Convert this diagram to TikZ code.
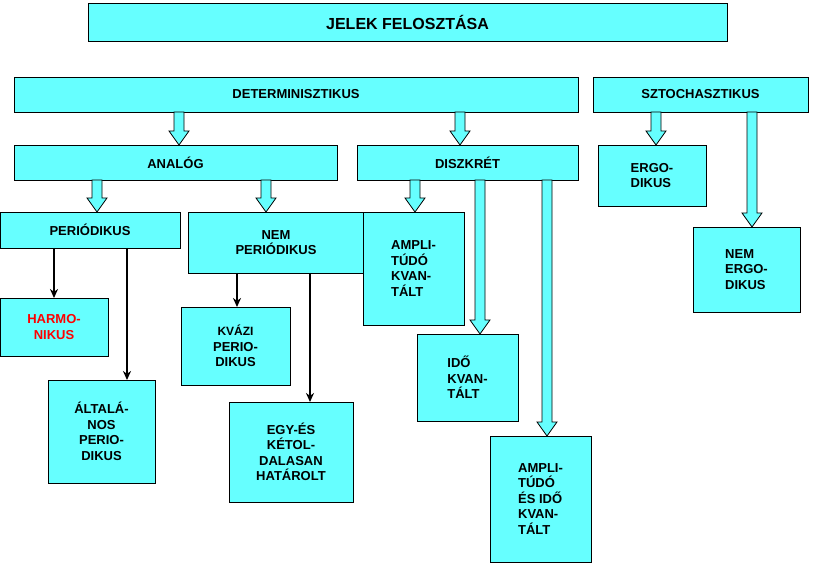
\documentclass[tikz,border=0pt]{standalone}
\usepackage{fontspec}
\setmainfont{Liberation Sans}
\usetikzlibrary{arrows.meta}
\definecolor{cy}{HTML}{66FFFF}
\tikzset{box/.style={draw=black,line width=0.9pt,fill=cy,inner sep=0pt,outer sep=0pt,font=\bfseries\fontsize{13}{15.5}\selectfont},
 barrow/.style={draw=black,line width=0.8pt,fill=cy},
 karrow/.style={draw=black,line width=2pt,-{Stealth[length=9pt,width=8pt]}}}
\newcommand\bx[7][center]{\node[box,align=#1,minimum width={(#5-#3)*1pt},minimum height={(#6-#4)*1pt}] (#2) at ({(#3+#5)/2},{(#4+#6)/2}) {#7};}
\newcommand\barr[3]{\draw[barrow] ({#1-5},#2) -- ({#1+5},#2) -- ({#1+5},{#3-14}) -- ({#1+10},{#3-14}) -- (#1,#3) -- ({#1-10},{#3-14}) -- ({#1-5},{#3-14}) -- cycle;}
\begin{document}
\begin{tikzpicture}[x=1pt,y=-1pt]
\useasboundingbox (0,0) rectangle (814,577);
\node[box,minimum width=639pt,minimum height=38pt,font=\bfseries\fontsize{16}{19}\selectfont] (title) at (407.5,22) {JELEK FELOSZTÁSA};
\bx{det}{14}{77}{578}{112}{DETERMINISZTIKUS}
\bx{szt}{593}{77}{808}{112}{SZTOCHASZTIKUS}
\bx{ana}{14}{145}{337}{180}{ANALÓG}
\bx{dis}{357}{145}{578}{180}{DISZKRÉT}
\bx[left]{erg}{598}{145}{706}{206}{ERGO-\\DIKUS}
\bx{per}{0}{212}{180}{248}{PERIÓDIKUS}
\bx{nper}{188}{212}{364}{273}{NEM\\PERIÓDIKUS}
\bx[left]{amp}{363}{212}{464}{325}{AMPLI-\\TÚDÓ\\KVAN-\\TÁLT}
\bx[left]{nerg}{693}{227}{800}{312}{NEM\\ERGO-\\DIKUS}
\bx{harm}{0}{298}{108}{356}{\textcolor{red}{HARMO-}\\\textcolor{red}{NIKUS}}
\bx{kvazi}{181}{307}{290}{385}{\fontsize{12}{15}\selectfont KVÁZI\\PERIO-\\DIKUS}
\bx[left]{ido}{417}{334}{518}{421}{IDŐ\\KVAN-\\TÁLT}
\bx{alt}{48}{380}{155}{483}{ÁLTALÁ-\\NOS\\PERIO-\\DIKUS}
\bx{egy}{229}{402}{353}{502}{EGY-ÉS\\KÉTOL-\\DALASAN\\HATÁROLT}
\bx[left]{ampi}{490}{436}{591}{562}{AMPLI-\\TÚDÓ\\ÉS IDŐ\\KVAN-\\TÁLT}
\barr{179}{112}{145}
\barr{460}{112}{145}
\barr{97}{180}{212}
\barr{266}{180}{212}
\barr{415}{180}{212}
\barr{480}{180}{334}
\barr{547}{180}{436}
\barr{656}{112}{145}
\barr{752}{112}{227}
\draw[karrow] (54,248) -- (54,298);
\draw[karrow] (127,248) -- (127,380);
\draw[karrow] (237,273) -- (237,307);
\draw[karrow] (310,273) -- (310,402);
\end{tikzpicture}
\end{document}
